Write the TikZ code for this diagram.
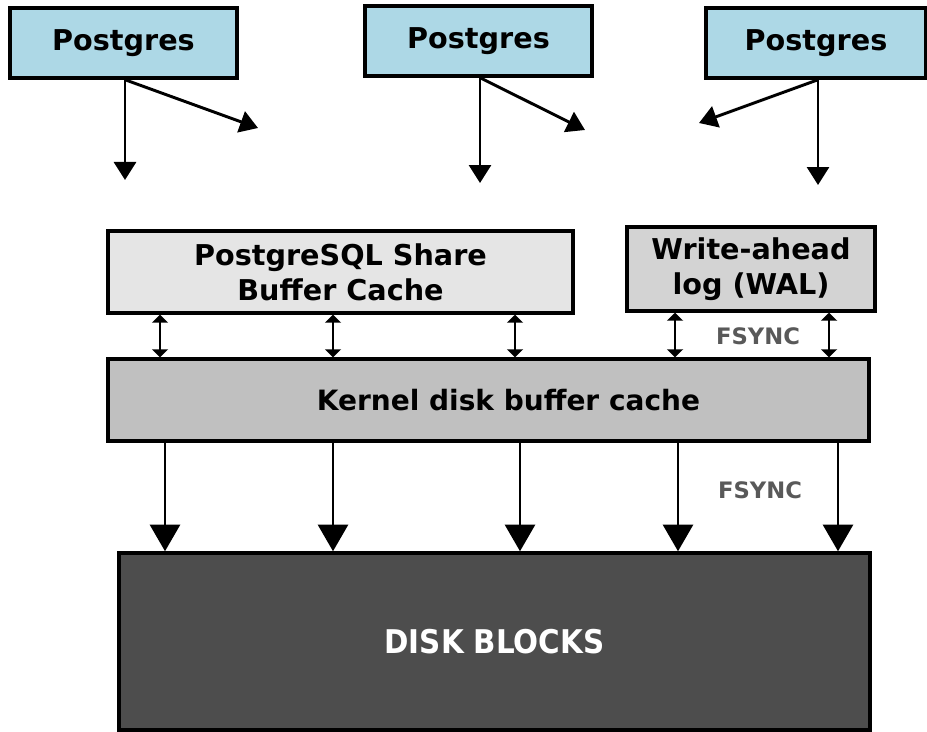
\documentclass[tikz,border=0pt]{standalone}
\usepackage{fontspec}
\setmainfont{DejaVu Sans}
\newfontfamily\condfont{DejaVu Sans Condensed}
\usetikzlibrary{arrows.meta}

\definecolor{procblue}{HTML}{ADD8E6}
\definecolor{sharegray}{HTML}{E5E5E5}
\definecolor{walgray}{HTML}{D3D3D3}
\definecolor{kernelgray}{HTML}{C0C0C0}
\definecolor{diskgray}{HTML}{4D4D4D}
\definecolor{fsyncgray}{HTML}{595959}

\tikzset{
  box/.style={draw=black, line width=2.6pt, inner sep=0pt, align=center,
    font=\bfseries\fontsize{21.5}{26}\selectfont},
  fsync/.style={text=fsyncgray, font=\bfseries\fontsize{17}{20}\selectfont},
  callarrow/.style={line width=2.2pt, -{Triangle[width=16.5pt, length=13.5pt]}},
  syncarrow/.style={line width=2pt, {Triangle[width=12pt, length=6pt]}-{Triangle[width=12pt, length=6pt]}},
  diskarrow/.style={line width=2.2pt, -{Triangle[width=22.5pt, length=20pt]}},
}

\begin{document}
\begin{tikzpicture}[x=0.75pt, y=-0.75pt]
  \useasboundingbox (0,0) rectangle (927,731);

  % Parameters definitions
  \def\pgw{227} % Width of a Postgres box
  \def\pgh{70}  % Height of a Postgres box

  % Postgres processes
  \node[box, fill=procblue, minimum width=\pgw*0.75pt, minimum height=\pgh*0.75pt] (pg1) at (123.5,43) {Postgres};
  \node[box, fill=procblue, minimum width=\pgw*0.75pt, minimum height=\pgh*0.75pt] (pg2) at (478.5,41) {Postgres};
  \node[box, fill=procblue, minimum width=220*0.75pt, minimum height=\pgh*0.75pt] (pg3) at (816,43) {Postgres};

  % Caches
  \node[box, fill=sharegray, minimum width=465*0.75pt, minimum height=82*0.75pt] (share) at (340.5,272) {PostgreSQL Share\\Buffer Cache};
  \node[box, fill=walgray, minimum width=248*0.75pt, minimum height=84*0.75pt] (wal) at (751,269) {Write-ahead\\log (WAL)};
  \node[box, fill=kernelgray, minimum width=761*0.75pt, minimum height=82*0.75pt,
    font=\bfseries\fontsize{21}{26}\selectfont] (kernel) at (488.5,400) {\hspace*{30pt}Kernel disk buffer cache};

  % Disk
  \node[box, fill=diskgray, text=white, minimum width=751*0.75pt, minimum height=177*0.75pt,
    font=\condfont\bfseries\fontsize{24.5}{28}\selectfont] (disk) at (494.5,641.5) {DISK BLOCKS};

  \node[fsync] (fsynctop) at (758,336) {FSYNC};
  \node[fsync] (fsyncbot) at (760,490) {FSYNC};

  % Requests from the processes
  \coordinate (pd1) at (125,180);
  \coordinate (pr1) at (258,128);
  \coordinate (pd2) at (480,183);
  \coordinate (pr2) at (585,130);
  \coordinate (pd3) at (818,185);
  \coordinate (pl3) at (699,123);

  \draw[callarrow] (pg1.south -| pd1) -- (pd1);
  \draw[callarrow] (pg1.south -| pd1) -- (pr1);
  \draw[callarrow] (pg2.south -| pd2) -- (pd2);
  \draw[callarrow] (pg2.south -| pd2) -- (pr2);
  \draw[callarrow] (pg3.south -| pd3) -- (pd3);
  \draw[callarrow] (pg3.south -| pd3) -- (pl3);

  % Share buffer <-> kernel
  \foreach \x [count=\i] in {160,333,515} {
    \coordinate (sb\i) at (\x,0);
    \draw[syncarrow] (share.south -| sb\i) -- (kernel.north -| sb\i);
  }

  % WAL <-> kernel
  \foreach \x [count=\i] in {675,829} {
    \coordinate (wb\i) at (\x,0);
    \draw[syncarrow] (wal.south -| wb\i) -- (kernel.north -| wb\i);
  }

  % Kernel -> disk
  \foreach \x [count=\i] in {165,333,520,678,838} {
    \coordinate (kd\i) at (\x,0);
    \draw[diskarrow] (kernel.south -| kd\i) -- (disk.north -| kd\i);
  }
\end{tikzpicture}
\end{document}
